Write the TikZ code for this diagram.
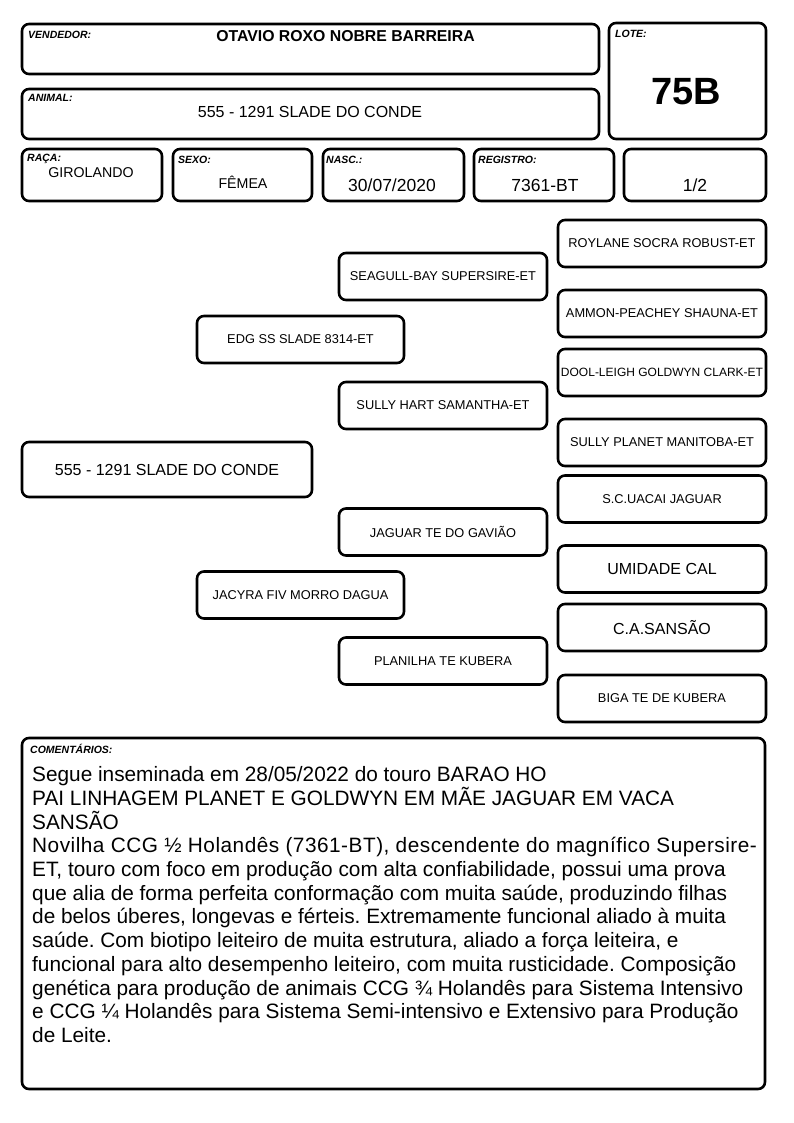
\documentclass[tikz,border=0pt]{standalone}
\usepackage{fontspec}
\setmainfont{Liberation Sans}
\usetikzlibrary{positioning}
\frenchspacing

\begin{document}
\begin{tikzpicture}[x=1pt, y=-1pt,
  frame/.style={draw, line width=2.6pt, rounded corners=7pt, inner sep=0pt},
  tag/.style={anchor=base west, inner sep=0pt, font=\fontsize{10.5}{12}\selectfont\bfseries\itshape},
  value/.style={anchor=base, inner sep=0pt, font=\fontsize{16}{18}\selectfont},
  ped/.style={frame, minimum width=208pt, minimum height=47pt, font=\fontsize{12.8}{14}\selectfont}
]
\useasboundingbox (0,0) rectangle (794,1123);

% header
\node[frame, minimum width=577pt, minimum height=50pt] (vendbox) at (310.5,49) {};
\node[frame, minimum width=577pt, minimum height=50pt] (animalbox) at (310.5,114) {};
\node[frame, minimum width=157pt, minimum height=116pt] (lotebox) at (687.5,81) {};
\node[frame, minimum width=140pt, minimum height=52pt] (racabox) at (92,175) {};
\node[frame, minimum width=139pt, minimum height=52pt] (sexobox) at (242.5,175) {};
\node[frame, minimum width=141pt, minimum height=52pt] (nascbox) at (393.5,175) {};
\node[frame, minimum width=140pt, minimum height=52pt] (regbox) at (544,175) {};
\node[frame, minimum width=142pt, minimum height=52pt] (fracbox) at (695,175) {};

\node[tag] (vendtag) at (28,39) {VENDEDOR:};
\node[value, font=\fontsize{15.8}{18}\selectfont\bfseries] (vendname) at (345.5,42) {OTAVIO ROXO NOBRE BARREIRA};
\node[tag] (animaltag) at (28,102) {ANIMAL:};
\node[value] (animalname) at (310,118) {555 - 1291 SLADE DO CONDE};
\node[tag] (lotetag) at (615,38) {LOTE:};
\node[value, font=\fontsize{38}{40}\selectfont\bfseries] (lotenum) at (686.5,105) {75B};
\node[tag] (racatag) at (27,162) {RAÇA:};
\node[value, font=\fontsize{14.2}{16}\selectfont] (raca) at (91,178) {GIROLANDO};
\node[tag] (sexotag) at (178,164) {SEXO:};
\node[value, font=\fontsize{14.2}{16}\selectfont] (sexo) at (243,189) {FÊMEA};
\node[tag] (nasctag) at (326,164) {NASC.:};
\node[value, font=\fontsize{17.5}{20}\selectfont] (nasc) at (392,192) {30/07/2020};
\node[tag] (regtag) at (478,164) {REGISTRO:};
\node[value, font=\fontsize{17.5}{20}\selectfont] (reg) at (545,192) {7361-BT};
\node[value, font=\fontsize{17.5}{20}\selectfont] (frac) at (695,192) {1/2};

% pedigree
\node[frame, minimum width=290pt, minimum height=55pt, font=\fontsize{16}{18}\selectfont] (animal) at (167,469.5) {555 - 1291 SLADE DO CONDE};

\node[ped, minimum width=207pt] (pai) at (300.5,339.5) {EDG SS SLADE 8314-ET};
\node[ped, minimum width=207pt] (mae) at (300.5,595) {JACYRA FIV MORRO DAGUA};

\node[ped] (avopp) at (443,276.5) {SEAGULL-BAY SUPERSIRE-ET};
\node[ped] (avopm) at (443,405.5) {SULLY HART SAMANTHA-ET};
\node[ped] (avomp) at (443,532) {JAGUAR TE DO GAVIÃO};
\node[ped] (avomm) at (443,661) {PLANILHA TE KUBERA};

\node[ped] (bisa1) at (662,243.5) {ROYLANE SOCRA ROBUST-ET};
\node[ped] (bisa2) at (662,313.5) {AMMON-PEACHEY SHAUNA-ET};
\node[ped, font=\fontsize{12}{14}\selectfont] (bisa3) at (662,372.5) {DOOL-LEIGH GOLDWYN CLARK-ET};
\node[ped] (bisa4) at (662,442.5) {SULLY PLANET MANITOBA-ET};
\node[ped] (bisa5) at (662,499) {S.C.UACAI JAGUAR};
\node[ped, font=\fontsize{16}{18}\selectfont] (bisa6) at (662,569) {UMIDADE CAL};
\node[ped, font=\fontsize{16}{18}\selectfont] (bisa7) at (662,627.5) {C.A.SANSÃO};
\node[ped] (bisa8) at (662,698.5) {BIGA TE DE KUBERA};

% comentarios
\node[frame, minimum width=743pt, minimum height=351pt] (combox) at (393.5,913.5) {};
\node[tag] (comtag) at (30,753) {COMENTÁRIOS:};
\node[anchor=north west, inner sep=0pt, align=left, font=\fontsize{20.8}{23.7}\selectfont] (comtext) at (32,766.5) {%
Segue inseminada em 28/05/2022 do touro BARAO HO\\
PAI LINHAGEM PLANET E GOLDWYN EM MÃE JAGUAR EM VACA\\
SANSÃO\\
\addfontfeature{LetterSpace=2.4}%
Novilha CCG ½ Holandês (7361-BT), descendente do magnífico Supersire-\\
ET, touro com foco em produção com alta confiabilidade, possui uma prova\\
que alia de forma perfeita conformação com muita saúde, produzindo filhas\\
de belos úberes, longevas e férteis. Extremamente funcional aliado à muita\\
saúde. Com biotipo leiteiro de muita estrutura, aliado a força leiteira, e\\
funcional para alto desempenho leiteiro, com muita rusticidade. Composição\\
genética para produção de animais CCG ¾ Holandês para Sistema Intensivo\\
e CCG ¼ Holandês para Sistema Semi-intensivo e Extensivo para Produção\\
de Leite.};
\end{tikzpicture}
\end{document}
